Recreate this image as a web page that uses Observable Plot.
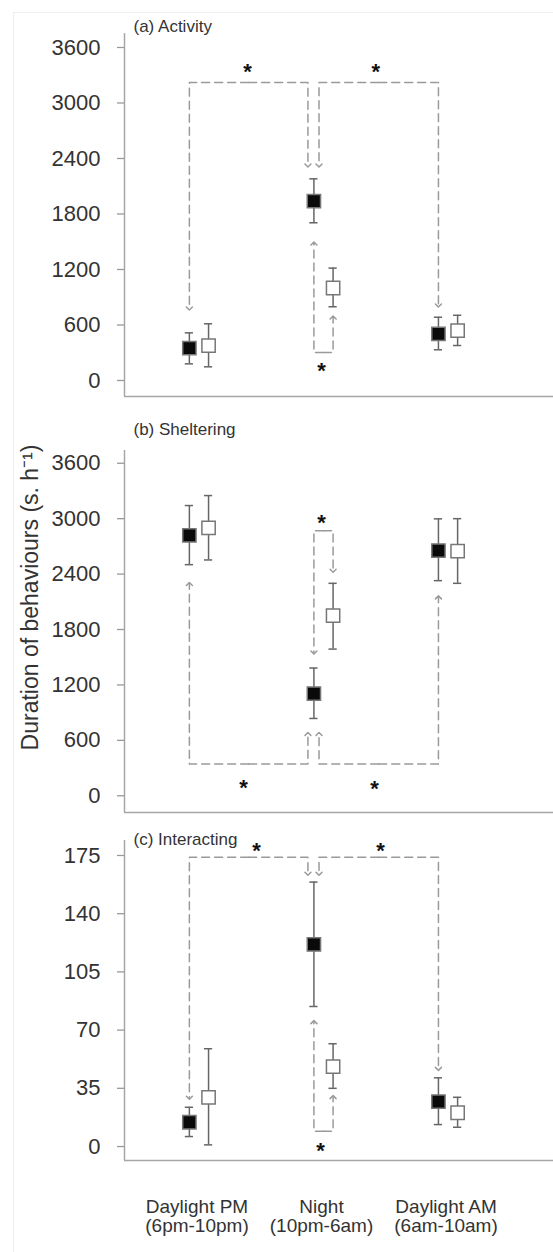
<!DOCTYPE html>
<html><head><meta charset="utf-8">
<script src="https://cdn.jsdelivr.net/npm/d3@7"></script>
<script src="https://cdn.jsdelivr.net/npm/@observablehq/plot@0.6"></script>
<style>
body{margin:0;background:#fff;}
#fig{width:553px;height:1252px;position:relative;overflow:hidden;background:#fff;font-family:"Liberation Sans",Arial,sans-serif;}
#fig svg{display:block;}
#edge{position:absolute;left:13px;top:12px;right:0;bottom:0;border-left:1px solid #efefef;border-top:1px solid #efefef;pointer-events:none;}
marker path{stroke-dasharray:none;}
</style></head><body><div id="fig"><div id="edge"></div></div>
<script>
// ---- categories ----
const periods = ["Daylight PM\n(6pm-10pm)", "Night\n(10pm-6am)", "Daylight AM\n(6am-10am)"];
const seriesNames = ["filled", "open"];

// ---- (a) Activity ----
const activityFilledMean = [350, 1940, 505];
const activityFilledLow  = [180, 1705, 332];
const activityFilledHigh = [515, 2180, 684];
const activityOpenMean   = [378, 1000, 540];
const activityOpenLow    = [148, 797, 378];
const activityOpenHigh   = [613, 1215, 705];

// ---- (b) Sheltering ----
const shelterFilledMean = [2820, 1105, 2655];
const shelterFilledLow  = [2502, 837, 2329];
const shelterFilledHigh = [3142, 1383, 2998];
const shelterOpenMean   = [2900, 1950, 2648];
const shelterOpenLow    = [2553, 1588, 2300];
const shelterOpenHigh   = [3250, 2300, 3000];

// ---- (c) Interacting ----
const interactFilledMean = [14.6, 121.5, 27];
const interactFilledLow  = [6, 84.2, 13.2];
const interactFilledHigh = [23.6, 159, 41.3];
const interactOpenMean   = [29.6, 48.1, 20.3];
const interactOpenLow    = [1, 35, 11.6];
const interactOpenHigh   = [58.8, 61.8, 29.6];

// ---- tick labels ----
const durationTicks = [0, 600, 1200, 1800, 2400, 3000, 3600];
const interactTicks = [0, 35, 70, 105, 140, 175];

// ---- significance brackets: [period position, value], arrow at both ends ----
const activityBracketA = [[-0.077, 778], [-0.077, 3222], [0.875, 3222], [0.875, 2324]];
const activityBracketB = [[0.964, 2324], [0.964, 3222], [1.923, 3222], [1.923, 810]];
const activityBracketC = [[0.923, 1480], [0.923, 303], [1.077, 303], [1.077, 680]];
const activityStars = [[0.39, 3384], [1.42, 3384], [0.984, 162]];

const shelterBracketA = [[-0.077, 2293], [-0.077, 343], [0.875, 343], [0.875, 668]];
const shelterBracketB = [[0.964, 668], [0.964, 343], [1.923, 343], [1.923, 2148]];
const shelterBracketC = [[0.923, 1552], [0.923, 2870], [1.077, 2870], [1.077, 2437]];
const shelterStars = [[0.357, 144], [1.41, 130], [0.984, 3004]];

const interactBracketA = [[-0.077, 29.3], [-0.077, 174], [0.875, 174], [0.875, 164]];
const interactBracketB = [[0.964, 164], [0.964, 174], [1.923, 174], [1.923, 46.7]];
const interactBracketC = [[0.923, 74.8], [0.923, 9.2], [1.077, 9.2], [1.077, 29.7]];
const interactStars = [[0.462, 181], [1.458, 181], [0.976, 0.6]];

// ---- helpers ----
const seriesOffset = {filled: -0.077, open: 0.077};
const capHalf = 0.033;
const xDomain = [-0.598, 2.847];
const FONT = '"Liberation Sans", Arial, sans-serif';

function rows(fm, fl, fh, om, ol, oh) {
  const out = [];
  periods.forEach((p, i) => {
    out.push({series: "filled", x: i + seriesOffset.filled, mean: fm[i], lo: fl[i], hi: fh[i]});
    out.push({series: "open", x: i + seriesOffset.open, mean: om[i], lo: ol[i], hi: oh[i]});
  });
  return out;
}
// split each bracket at the middle of its horizontal run, so that each half ends with an arrow
function bracketRows(list) {
  const out = [];
  list.forEach(([p0, p1, p2, p3], k) => {
    const mid = [(p1[0] + p2[0]) / 2, p1[1]];
    [mid, p1, p0].forEach(([x, y]) => out.push({id: k * 2, x, y}));
    [mid, p2, p3].forEach(([x, y]) => out.push({id: k * 2 + 1, x, y}));
  });
  return out;
}

function panel(cfg) {
  const data = rows(...cfg.values);
  const caps = data.flatMap(d => [{x: d.x, v: d.lo}, {x: d.x, v: d.hi}]);
  const marks = [
    Plot.ruleX([xDomain[0]], {stroke: "#a6a6a6", strokeWidth: 1.5}),
    Plot.ruleY([cfg.domain[0]], {stroke: "#a6a6a6", strokeWidth: 1.5}),
    Plot.axisY(cfg.ticks, {tickSize: 7, tickPadding: 17, tickFormat: d3.format("d"), label: null,
      fontSize: 22, stroke: "#999", strokeWidth: 1.3, fill: "#333"}),
    Plot.line(bracketRows(cfg.brackets), {x: "x", y: "y", z: "id", stroke: "#9a9a9a", strokeWidth: 1.5,
      strokeDasharray: "8,5", markerEnd: "arrow"}),
    Plot.ruleX(data, {x: "x", y1: "lo", y2: "hi", stroke: "#666", strokeWidth: 1.5}),
    Plot.ruleY(caps, {y: "v", x1: d => d.x - capHalf, x2: d => d.x + capHalf, stroke: "#666", strokeWidth: 1.5}),
    Plot.dot(data, {x: "x", y: "mean", symbol: "square", r: 7.5,
      fill: d => d.series === "filled" ? "#0a0a0a" : "#fff", stroke: "#777", strokeWidth: 1.5}),
    Plot.text(cfg.stars, {x: d => d[0], y: d => d[1], text: () => "*", fontSize: 22, fontWeight: "bold",
      fill: "#111", dy: 5}),
    Plot.text([cfg.title], {frameAnchor: "top-left", text: d => d, dx: 9, dy: cfg.titleDy,
      textAnchor: "start", lineAnchor: "middle", fontSize: 17, fill: "#333"})
  ];
  if (cfg.extra) marks.push(...cfg.extra);
  return Plot.plot({
    width: 553, height: cfg.height,
    marginLeft: 124, marginRight: 0, marginTop: cfg.marginTop, marginBottom: cfg.marginBottom,
    style: {fontFamily: FONT, fontSize: "22px", color: "#333", background: "transparent", overflow: "visible"},
    x: {domain: xDomain, axis: null},
    y: {domain: cfg.domain, label: null, axis: null},
    marks
  });
}

const fig = document.getElementById("fig");

fig.appendChild(panel({
  values: [activityFilledMean, activityFilledLow, activityFilledHigh, activityOpenMean, activityOpenLow, activityOpenHigh],
  ticks: durationTicks, domain: [-173, 3751], height: 410, marginTop: 33, marginBottom: 14,
  brackets: [activityBracketA, activityBracketB, activityBracketC], stars: activityStars,
  title: "(a) Activity", titleDy: -7
}));

fig.appendChild(panel({
  values: [shelterFilledMean, shelterFilledLow, shelterFilledHigh, shelterOpenMean, shelterOpenLow, shelterOpenHigh],
  ticks: durationTicks, domain: [-181, 3738], height: 415, marginTop: 40, marginBottom: 13,
  brackets: [shelterBracketA, shelterBracketB, shelterBracketC], stars: shelterStars,
  title: "(b) Sheltering", titleDy: -21,
  extra: [Plot.text(["Duration of behaviours (s. h\u207B\u00B9)"], {frameAnchor: "left", text: d => d, rotate: -90,
    textAnchor: "middle", lineAnchor: "middle", dx: -94, dy: -34, fontSize: 23, fill: "#333"})]
}));

fig.appendChild(panel({
  values: [interactFilledMean, interactFilledLow, interactFilledHigh, interactOpenMean, interactOpenLow, interactOpenHigh],
  ticks: interactTicks, domain: [-8.4, 184], height: 427, marginTop: 15, marginBottom: 92,
  brackets: [interactBracketA, interactBracketB, interactBracketC], stars: interactStars,
  title: "(c) Interacting", titleDy: -1,
  extra: [Plot.text(periods, {x: (d, i) => i, frameAnchor: "bottom", text: d => d, lineAnchor: "top",
    dy: 39, dx: -2, fontSize: 19, lineHeight: 1.0, fill: "#333"})]
}));
</script></body></html>
